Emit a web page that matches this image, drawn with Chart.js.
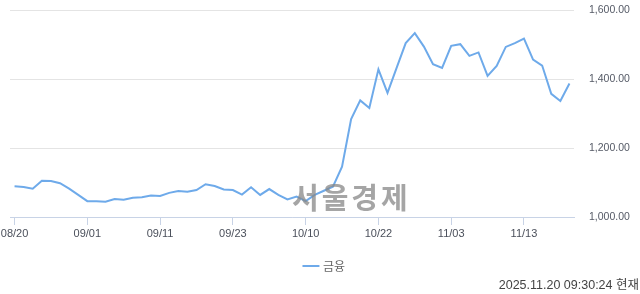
<!DOCTYPE html>
<html>
<head>
<meta charset="utf-8">
<script src="https://cdn.jsdelivr.net/npm/chart.js@4"></script>
<style>
html,body{margin:0;padding:0;background:#fff;}
#wrap{position:relative;width:640px;height:294px;overflow:hidden;}
#wm{position:absolute;left:292px;top:181px;font-family:"Noto Sans CJK KR","Noto Sans CJK SC";font-weight:700;font-size:29px;line-height:1.1;color:rgba(135,135,135,0.75);letter-spacing:3px;pointer-events:none;white-space:nowrap;}
#ts{position:absolute;right:1px;top:274px;font-family:"Liberation Sans","Noto Sans CJK KR";font-size:12.5px;color:#444;white-space:nowrap;}
</style>
</head>
<body>
<div id="wrap">
<canvas id="c" width="640" height="294"></canvas>
<div id="wm">서울경제</div>
<div id="ts">2025.11.20 09:30:24 현재</div>
</div>
<script>
const dates = ["08/20","08/21","08/22","08/25","08/26","08/27","08/28","08/29",
"09/01","09/02","09/03","09/04","09/05","09/08","09/09","09/10",
"09/11","09/12","09/15","09/16","09/17","09/18","09/19","09/22",
"09/23","09/24","09/25","09/26","09/29","09/30","10/01","10/02",
"10/10","10/13","10/14","10/15","10/16","10/17","10/20","10/21",
"10/22","10/23","10/24","10/27","10/28","10/29","10/30","10/31",
"11/03","11/04","11/05","11/06","11/07","11/10","11/11","11/12",
"11/13","11/14","11/17","11/18","11/19","11/20"];
const values = [1089,1087,1082,1105,1104,1098,1082,1064,
1046,1046,1044,1052,1050,1056,1057,1062,
1061,1070,1075,1073,1078,1095,1090,1080,
1078,1065,1086,1064,1081,1064,1051,1059,
1046,1064,1076,1088,1146,1284,1338,1316,
1428,1360,1432,1504,1533,1494,1443,1432,
1496,1501,1467,1477,1409,1438,1493,1504,
1517,1456,1439,1357,1336,1387];
const shownTicks = ["08/20","09/01","09/11","09/23","10/10","10/22","11/03","11/13"];
const yTicks = [1000,1200,1400,1600];
const seriesName = "금융";

new Chart(document.getElementById('c'), {
  type: 'line',
  data: {
    labels: dates,
    datasets: [{
      label: seriesName,
      data: values,
      borderColor: '#6eaaea',
      backgroundColor: '#6eaaea',
      borderWidth: 2,
      pointRadius: 0,
      tension: 0
    }]
  },
  options: {
    responsive: false,
    animation: false,
    layout: {padding: {left: 10, right: 0, top: 10, bottom: 12}},
    plugins: {
      tooltip: {enabled: false},
      legend: {
        position: 'bottom',
        labels: {
          usePointStyle: true,
          pointStyle: 'line',
          boxWidth: 16,
          color: '#666',
          font: {family: '"Noto Sans CJK KR"', size: 12},
          padding: 10
        }
      }
    },
    scales: {
      x: {
        offset: true,
        grid: {display: true, drawOnChartArea: false, drawTicks: true, tickLength: 8, color: '#c8d3e6'},
        border: {display: true, color: '#c8d3e6'},
        ticks: {
          autoSkip: false, maxRotation: 0, color: '#4a4f5a', padding: 2,
          font: {family: '"Liberation Sans"', size: 11},
          callback: function(v, i){ const l = dates[i]; return shownTicks.includes(l) ? l : null; }
        },
        afterFit: function(s){ s.height = 33; s.paddingLeft = 0; s.paddingRight = 0; }
      },
      y: {
        position: 'right',
        min: 1000, max: 1600,
        afterBuildTicks: function(s){ s.ticks = yTicks.map(v => ({value: v})); },
        grid: {color: '#e4e4e4', drawTicks: false},
        border: {display: false},
        ticks: {
          color: '#555a66', padding: 15,
          font: {family: '"Liberation Sans"', size: 10.5},
          callback: v => v.toLocaleString('en-US', {minimumFractionDigits: 2, maximumFractionDigits: 2})
        },
        afterFit: function(s){ s.width = 66; s.paddingTop = 0; s.paddingBottom = 0; }
      }
    }
  }
});
</script>
</body>
</html>
